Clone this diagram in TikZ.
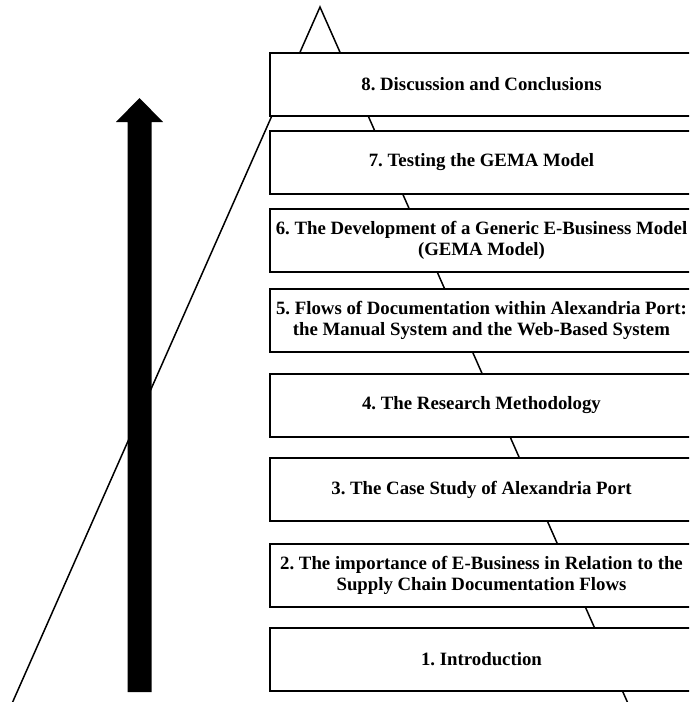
\documentclass[tikz,border=0pt]{standalone}
\usepackage{fontspec}
\setmainfont{Liberation Serif}
\frenchspacing
\begin{document}
\begin{tikzpicture}[x=1pt,y=-1pt,
  stage/.style={draw=black, line width=2pt, fill=white, rectangle, anchor=north west,
    minimum width=423pt, minimum height=63pt, inner sep=0pt, align=center,
    font=\fontsize{18.8}{21}\selectfont\bfseries\frenchspacing},
  pyr/.style={draw=black, line width=1.5pt},
  bigarrow/.style={fill=black, draw=none}]
\useasboundingbox (0,0) rectangle (689,702);
\clip (0,0) rectangle (689,702);
% pyramid outline
\coordinate (apex) at (320,7);
\coordinate (baseL) at (10,708);
\coordinate (baseR) at (630,708);
\draw[pyr] (baseL) -- (apex) -- (baseR);
% big upward arrow
\fill[bigarrow] (127.5,692) -- (151.5,692) -- (151.5,122) -- (163,122) -- (139.5,98)
  -- (116,122) -- (127.5,122) -- cycle;
% stages
\node[stage] (s8) at (269,52) {8. Discussion and Conclusions};
\node[stage] (s7) at (269,130) {7. Testing the GEMA Model};
\node[stage] (s6) at (269,208) {6. The Development of a Generic E-Business Model\\(GEMA Model)};
\node[stage] (s5) at (269,288) {5. Flows of Documentation within Alexandria Port:\\the Manual System and the Web-Based System};
\node[stage] (s4) at (269,373) {4. The Research Methodology};
\node[stage] (s3) at (269,457) {3. The Case Study of Alexandria Port};
\node[stage] (s2) at (269,543) {2. The importance of E-Business in Relation to the\\Supply Chain Documentation Flows};
\node[stage] (s1) at (269,627) {1. Introduction};
\end{tikzpicture}
\end{document}
